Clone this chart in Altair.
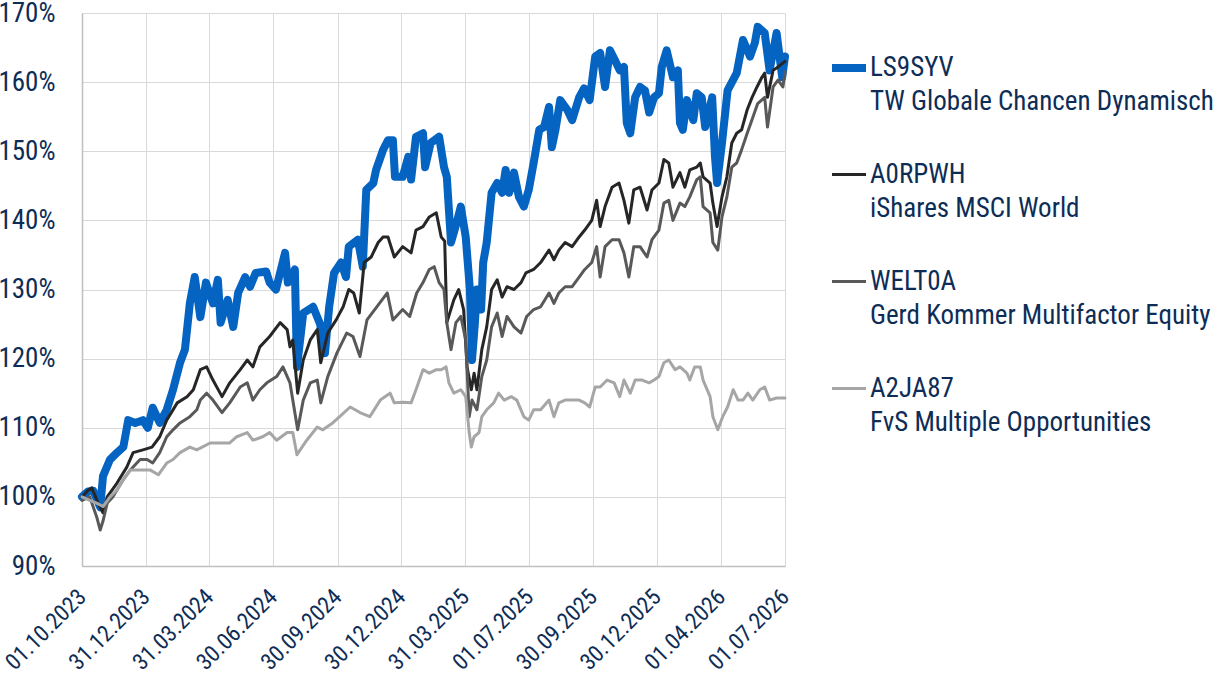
import altair as alt
import pandas as pd

# ---------------- data ----------------
SERIES = [
    "LS9SYV|TW Globale Chancen Dynamisch",
    "A0RPWH|iShares MSCI World",
    "WELT0A|Gerd Kommer Multifactor Equity",
    "A2JA87|FvS Multiple Opportunities",
]
COLORS = ["#0563C1", "#262626", "#595959", "#A6A6A6"]
WIDTHS = [8, 3, 3, 3]

# x = days since 01.10.2023, y = indexed value in %
LS9SYV_DAY = [0, 9, 16, 26, 30, 40, 50, 59, 66, 76, 87, 94, 101, 111, 121, 130, 140, 147, 154, 161, 169, 177, 187, 194, 198, 208, 216, 223, 233, 240, 248, 263, 268, 277, 290, 294, 304, 307, 316, 330, 340, 347, 353, 360, 370, 377, 381, 394, 401, 406, 416, 420, 430, 437, 444, 447, 458, 466, 470, 477, 487, 490, 498, 510, 517, 521, 527, 536, 541, 548, 554, 557, 561, 564, 570, 573, 578, 585, 593, 600, 605, 610, 617, 624, 631, 638, 645, 653, 660, 667, 671, 676, 683, 693, 700, 710, 717, 725, 733, 740, 747, 754, 761, 768, 774, 778, 783, 790, 797, 804, 810, 817, 824, 828, 835, 844, 851, 854, 858, 864, 873, 878, 885, 890, 900, 904, 907, 914, 922, 935, 944, 954, 961, 965, 975, 982, 992, 1000, 1004]
LS9SYV_VAL = [100.0, 100.8, 100.9, 98.5, 103.0, 105.4, 106.4, 107.2, 111.1, 110.7, 111.1, 110.0, 112.9, 110.7, 112.6, 115.5, 119.4, 121.3, 128.0, 131.8, 126.0, 131.0, 128.0, 131.4, 125.2, 128.5, 124.6, 129.5, 131.8, 130.4, 132.4, 132.6, 131.0, 130.0, 135.3, 131.0, 132.9, 118.8, 126.6, 127.5, 125.0, 120.8, 127.5, 132.4, 133.9, 131.8, 136.2, 137.2, 133.3, 144.4, 145.4, 147.3, 150.2, 151.6, 151.6, 146.3, 146.3, 149.2, 145.9, 152.1, 152.6, 147.7, 151.2, 152.1, 147.7, 146.3, 136.8, 140.0, 142.0, 137.6, 130.0, 119.8, 125.0, 130.0, 127.1, 133.9, 136.8, 144.0, 145.4, 144.0, 147.3, 144.0, 146.9, 143.4, 142.0, 144.4, 148.3, 153.1, 153.5, 156.4, 150.6, 153.0, 157.4, 156.0, 154.5, 157.8, 159.1, 157.4, 163.7, 164.2, 159.3, 164.6, 163.2, 161.7, 162.2, 154.1, 152.6, 157.8, 159.3, 158.8, 155.6, 157.8, 158.4, 162.2, 164.6, 160.7, 161.7, 154.1, 153.1, 157.4, 154.5, 158.4, 157.8, 153.5, 157.8, 149.2, 145.4, 151.2, 158.8, 161.3, 166.1, 163.7, 165.7, 168.0, 167.1, 161.7, 167.1, 160.7, 163.7]

A0RPWH_DAY = [0, 9, 14, 23, 30, 36, 50, 64, 73, 87, 100, 111, 121, 136, 150, 159, 169, 178, 187, 200, 211, 226, 236, 244, 254, 268, 283, 293, 297, 301, 308, 316, 326, 336, 341, 351, 363, 373, 381, 388, 396, 403, 413, 423, 430, 437, 446, 458, 470, 477, 487, 496, 506, 513, 518, 521, 531, 538, 545, 550, 556, 560, 564, 571, 578, 585, 593, 600, 607, 617, 627, 634, 645, 655, 667, 674, 681, 690, 700, 710, 718, 728, 735, 740, 747, 757, 767, 774, 781, 788, 797, 807, 814, 824, 831, 838, 844, 854, 861, 868, 878, 883, 887, 897, 901, 907, 914, 921, 928, 935, 942, 950, 957, 964, 971, 975, 979, 987, 994, 1004]
A0RPWH_VAL = [100.0, 101.0, 101.3, 99.1, 97.7, 100.0, 102.0, 104.3, 106.4, 106.8, 107.2, 108.7, 111.1, 113.6, 114.5, 115.5, 118.4, 118.8, 116.9, 114.5, 116.5, 118.4, 119.8, 118.8, 121.7, 123.2, 125.2, 124.2, 121.7, 122.7, 115.0, 119.8, 122.7, 124.2, 119.4, 123.7, 125.6, 127.5, 130.0, 129.5, 126.6, 133.9, 134.7, 136.8, 137.6, 137.6, 134.7, 136.2, 135.3, 138.6, 139.1, 140.5, 141.1, 137.6, 137.0, 125.2, 128.5, 130.0, 127.1, 118.8, 115.5, 117.9, 115.5, 121.3, 124.6, 130.0, 131.4, 128.9, 130.4, 130.0, 131.0, 132.4, 132.9, 133.9, 135.7, 134.3, 135.7, 136.8, 136.2, 137.6, 138.6, 140.0, 142.9, 139.1, 142.0, 144.8, 145.4, 142.9, 139.6, 144.4, 144.8, 141.5, 144.4, 145.4, 148.8, 148.3, 144.8, 146.9, 144.8, 147.3, 147.7, 148.3, 146.3, 145.4, 142.5, 139.1, 143.4, 146.3, 151.2, 152.6, 153.1, 156.0, 157.8, 159.3, 160.7, 161.3, 157.8, 161.7, 162.2, 163.0]

WELT0A_DAY = [0, 11, 21, 26, 30, 36, 44, 59, 69, 83, 93, 101, 111, 121, 130, 140, 154, 164, 169, 178, 187, 200, 211, 226, 236, 244, 254, 264, 278, 287, 297, 308, 316, 326, 336, 341, 351, 364, 378, 387, 397, 407, 421, 436, 444, 458, 468, 478, 487, 496, 503, 510, 517, 521, 527, 534, 541, 548, 553, 557, 564, 571, 578, 585, 593, 600, 607, 617, 627, 635, 645, 655, 667, 674, 681, 690, 700, 710, 718, 728, 735, 740, 747, 757, 767, 774, 781, 788, 797, 807, 814, 824, 831, 838, 844, 854, 861, 868, 878, 883, 887, 897, 901, 908, 914, 921, 928, 935, 942, 950, 958, 965, 975, 979, 987, 994, 1001, 1004]
WELT0A_VAL = [99.5, 100.0, 97.1, 95.2, 96.5, 99.1, 100.0, 102.5, 103.9, 105.4, 105.4, 104.9, 106.4, 108.7, 109.7, 110.7, 111.6, 112.6, 114.0, 115.0, 114.0, 112.2, 113.6, 115.9, 116.5, 114.0, 115.5, 116.5, 117.4, 118.8, 116.5, 109.7, 114.0, 116.5, 116.9, 113.6, 117.4, 120.8, 123.7, 123.2, 120.3, 125.6, 127.5, 129.5, 125.6, 127.1, 126.1, 129.5, 131.0, 132.9, 133.3, 131.0, 130.0, 125.2, 121.3, 125.2, 126.1, 122.7, 111.6, 114.0, 112.6, 117.4, 119.8, 124.6, 126.6, 123.2, 126.1, 124.6, 123.7, 126.1, 127.1, 127.5, 129.5, 128.0, 129.5, 130.4, 130.4, 131.8, 132.9, 133.9, 136.2, 131.8, 136.2, 137.2, 137.2, 135.3, 131.8, 136.2, 136.2, 134.7, 137.2, 138.6, 142.5, 142.9, 140.0, 142.5, 142.0, 143.4, 145.9, 146.3, 142.0, 141.1, 136.8, 135.7, 140.5, 143.4, 147.7, 148.3, 150.2, 152.6, 154.9, 156.9, 157.8, 153.5, 159.3, 160.3, 159.3, 161.5]

A2JA87_DAY = [0, 11, 21, 30, 40, 50, 59, 69, 83, 97, 109, 121, 130, 140, 154, 164, 183, 197, 211, 221, 236, 244, 258, 268, 278, 293, 301, 307, 321, 336, 344, 358, 368, 383, 397, 411, 426, 440, 446, 458, 470, 477, 487, 496, 506, 513, 520, 524, 531, 541, 548, 553, 556, 560, 567, 571, 578, 588, 595, 603, 613, 621, 631, 638, 645, 655, 667, 674, 681, 690, 710, 718, 725, 733, 740, 750, 760, 768, 774, 783, 790, 800, 810, 817, 824, 831, 838, 847, 854, 864, 868, 875, 883, 887, 897, 901, 908, 915, 922, 930, 937, 944, 951, 958, 968, 975, 982, 992, 1004]
A2JA87_VAL = [100.0, 99.5, 99.1, 98.6, 100.0, 101.0, 102.5, 103.9, 103.9, 103.9, 103.2, 104.9, 105.4, 106.4, 107.2, 106.8, 107.8, 107.8, 107.8, 108.7, 109.3, 108.2, 108.7, 109.3, 108.2, 109.3, 109.3, 106.1, 108.2, 110.1, 109.7, 110.7, 111.6, 113.0, 112.2, 111.6, 114.0, 115.0, 113.6, 113.7, 113.6, 115.5, 118.4, 117.9, 118.4, 118.4, 118.8, 116.5, 115.0, 115.5, 114.5, 109.3, 107.2, 108.7, 109.3, 111.6, 112.6, 113.6, 115.0, 114.0, 114.5, 114.0, 111.6, 111.1, 112.6, 112.6, 114.0, 111.6, 113.6, 114.0, 114.0, 113.6, 113.0, 115.9, 115.9, 116.9, 116.5, 114.5, 116.9, 115.0, 116.9, 116.9, 116.5, 116.9, 117.4, 119.4, 119.8, 118.4, 118.8, 117.9, 116.9, 118.8, 118.8, 116.9, 114.5, 111.6, 109.7, 111.6, 113.0, 115.5, 114.0, 114.0, 115.0, 114.0, 115.5, 115.9, 114.0, 114.3, 114.3]

TICK_DAYS = [0, 91, 182, 273, 365, 456, 547, 639, 730, 821, 913, 1004]
TICK_LABELS = ["01.10.2023", "31.12.2023", "31.03.2024", "30.06.2024", "30.09.2024",
               "30.12.2024", "31.03.2025", "01.07.2025", "30.09.2025", "30.12.2025",
               "01.04.2026", "01.07.2026"]
Y_TICKS = [90, 100, 110, 120, 130, 140, 150, 160, 170]

# ---------------- table ----------------
rows = []
for name, days, vals in zip(SERIES,
                            [LS9SYV_DAY, A0RPWH_DAY, WELT0A_DAY, A2JA87_DAY],
                            [LS9SYV_VAL, A0RPWH_VAL, WELT0A_VAL, A2JA87_VAL]):
    for d, v in zip(days, vals):
        rows.append({"series": name, "day": d, "val": v})
df = pd.DataFrame(rows)

FONT = "Roboto Condensed, Roboto, sans-serif"
TEXT = "#0d2d56"
FS = 27

label_expr = ("[" + ",".join("'%s'" % s for s in TICK_LABELS) + "][indexof(["
              + ",".join(str(d) for d in TICK_DAYS) + "], datum.value)]")

legend = alt.Legend(
    title=None, orient="none", legendX=746, legendY=34, direction="vertical",
    symbolType="stroke", symbolSize=1156, labelFont=FONT, labelFontSize=FS,
    labelColor=TEXT, labelLimit=600, labelOffset=0, rowPadding=41, padding=0,
    labelBaseline="middle", labelExpr="split(datum.label, '|')",
)

base = alt.Chart(df).mark_line(strokeCap="round", strokeJoin="round").encode(
    x=alt.X("day:Q",
            scale=alt.Scale(domain=[0, 1004], nice=False, zero=False),
            axis=alt.Axis(values=TICK_DAYS, labelExpr=label_expr, title=None,
                          labelAngle=315, labelAlign="right", labelBaseline="middle",
                          labelPadding=27, labelOverlap=False, labelFlush=False,
                          labelFontSize=23,
                          ticks=False, tickSize=0, grid=True)),
    y=alt.Y("val:Q",
            scale=alt.Scale(domain=[90, 170], nice=False, zero=False),
            axis=alt.Axis(values=Y_TICKS, labelExpr="datum.value + '%'", title=None,
                          ticks=False, tickSize=0, labelPadding=27, grid=True)),
    color=alt.Color("series:N", scale=alt.Scale(domain=SERIES, range=COLORS), legend=legend),
    strokeWidth=alt.StrokeWidth("series:N",
                                scale=alt.Scale(type="ordinal", domain=SERIES, range=WIDTHS),
                                legend=legend),
)

# the fund is drawn first (underneath), the comparison series on top of it
bottom = base.transform_filter(alt.datum.series == SERIES[0])
top = base.transform_filter(alt.datum.series != SERIES[0])

chart = alt.layer(bottom, top).properties(
    width=703, height=553,
    autosize=alt.AutoSizeParams(type="none"),
    padding={"left": 82, "top": 13, "right": 435, "bottom": 121},
).configure(
    view={"stroke": "transparent"},
    axis={"labelFont": FONT, "labelFontSize": FS, "labelColor": TEXT,
          "gridColor": "#d9d9d9", "gridWidth": 1,
          "domainColor": "#bfbfbf", "domainWidth": 1.5},
    style={"guide-label": {"lineHeight": 34}},
)

chart.save("out.html", embed_options={"renderer": "svg", "actions": False})
